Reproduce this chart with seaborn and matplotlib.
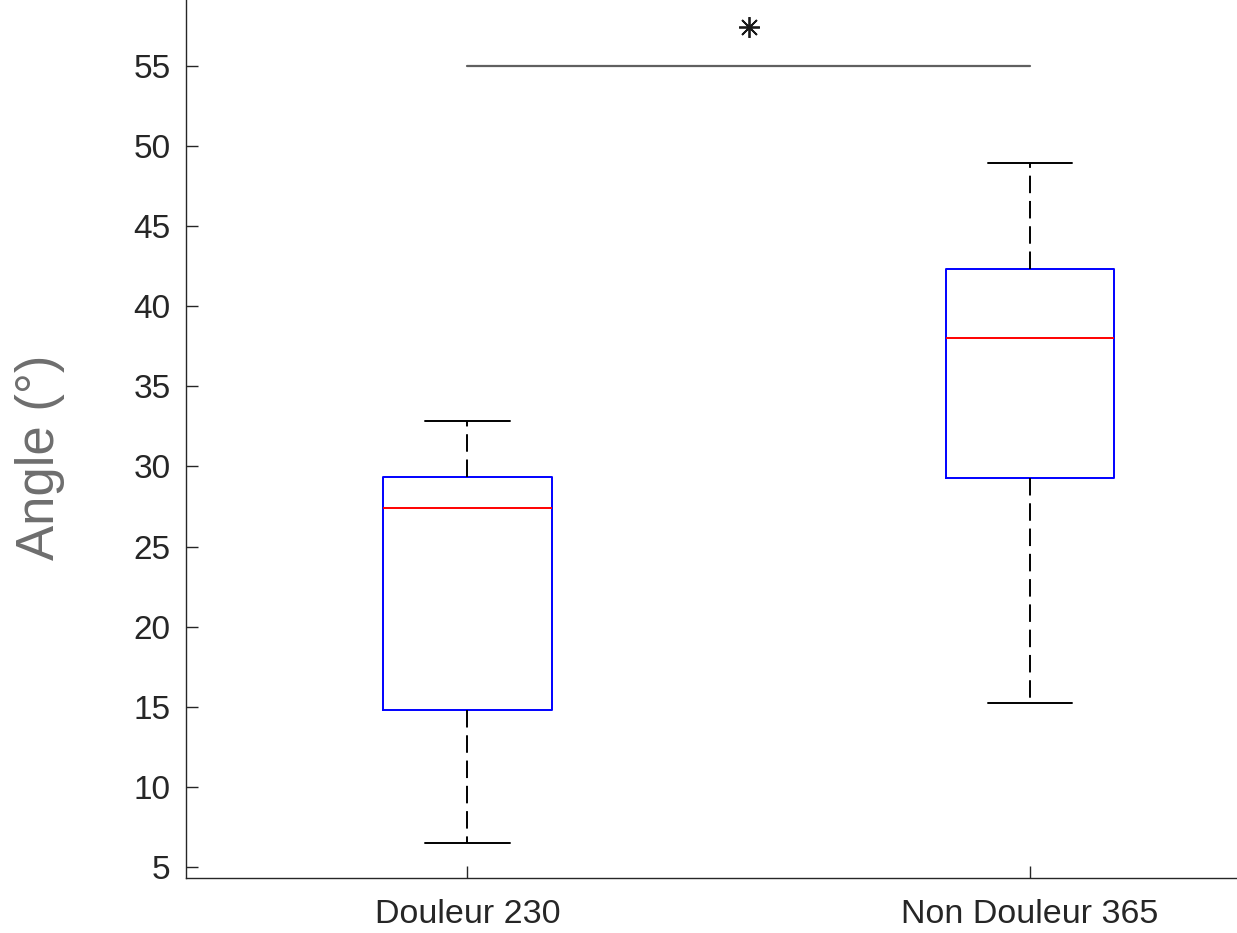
import matplotlib
matplotlib.use("Agg")
import matplotlib.pyplot as plt
import pandas as pd
import seaborn as sns

# data: five values per group (min, q1, median, q3, max)
groups = ["Douleur 230", "Non Douleur 365"]
douleur = [6.5, 14.8, 27.4, 29.35, 32.85]
non_douleur = [15.25, 29.3, 38.0, 42.3, 48.95]
sig_level = 55
star_level = 57.45

df = pd.DataFrame({
    "groupe": [groups[0]] * len(douleur) + [groups[1]] * len(non_douleur),
    "angle": douleur + non_douleur,
})

sns.set_style("ticks")
plt.rcParams['font.family'] = ['Liberation Sans', 'DejaVu Sans']

fig = plt.figure(figsize=(12.37, 9.33), dpi=100)
ax = fig.add_axes([0.1504, 0.059, 0.8496, 0.941])

sns.boxplot(data=df, x="groupe", y="angle", order=groups, ax=ax,
            width=0.3, fill=False, whis=1.5, showfliers=False,
            linewidth=1.4,
            boxprops=dict(color="#0000ff"),
            medianprops=dict(color="#ff0000"),
            whiskerprops=dict(color="black", linestyle=(0, (9, 4))),
            capprops=dict(color="black"))

# significance bar
ax.plot([0, 1], [sig_level, sig_level], color="#606060", lw=1.6)
ax.plot([0.5], [star_level], marker=(8, 2, 0), color="#1a1a1a",
        markersize=15, markeredgewidth=1.3, linestyle="none")

ax.set_xlim(-0.5, 1.368)
ax.set_ylim(4.313, 59.12)
ax.set_yticks(range(5, 60, 5))
ax.set_xlabel("")
ax.set_ylabel("Angle (°)", fontsize=38, color="#6e6e6e")
ax.yaxis.set_label_coords(-0.115, 0.4795)

sns.despine(ax=ax)
for s in ["left", "bottom"]:
    ax.spines[s].set_color("#262626")
    ax.spines[s].set_linewidth(1.0)
ax.tick_params(axis="both", direction="in", length=8.5, width=1.0,
               colors="#262626", labelsize=24)
ax.tick_params(axis="y", pad=11)
ax.tick_params(axis="x", pad=15, labelsize=24.5)

fig.savefig("out.png", dpi=100)
